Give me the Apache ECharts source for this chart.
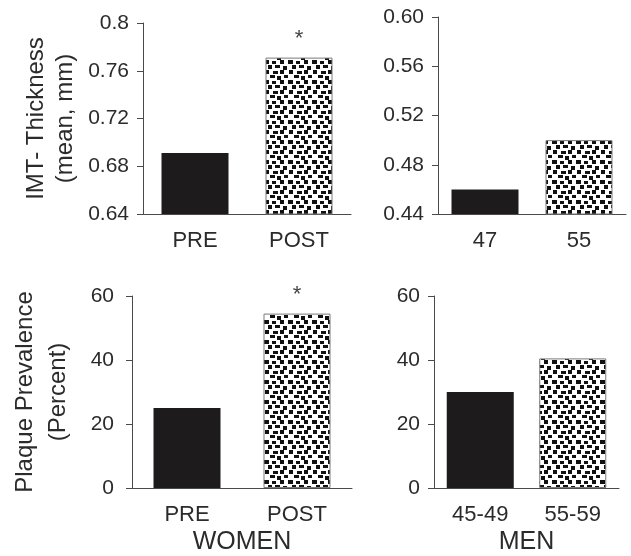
<!DOCTYPE html>
<html>
<head>
<meta charset="utf-8">
<script src="https://cdn.jsdelivr.net/npm/echarts@6/dist/echarts.min.js"></script>
<style>
html,body{margin:0;padding:0;background:#fff;}
#c{width:631px;height:556px;}
</style>
</head>
<body>
<div id="c"></div>
<script>
// ---- data ----
const imtWomenCats = ['PRE', 'POST'];
const imtWomen = [0.691, 0.771];
const imtWomenMarks = ['', '*'];

const imtMenCats = ['47', '55'];
const imtMen = [0.46, 0.50];
const imtMenMarks = ['', ''];

const plaqueWomenCats = ['PRE', 'POST'];
const plaqueWomen = [25, 54.5];
const plaqueWomenMarks = ['', '*'];

const plaqueMenCats = ['45-49', '55-59'];
const plaqueMen = [30, 40.5];
const plaqueMenMarks = ['', ''];

const imtTicks = { min: 0.64, max: 0.8, interval: 0.04 };
const imtMenTicks = { min: 0.44, max: 0.60, interval: 0.04 };
const plaqueTicks = { min: 0, max: 60, interval: 20 };

// ---- pattern (fill style only) ----
function makePattern() {
  const c = document.createElement('canvas');
  c.width = 24; c.height = 20;
  const g = c.getContext('2d');
  g.fillStyle = '#fff'; g.fillRect(0, 0, 24, 20);
  g.fillStyle = '#111';
  const blocks = [
    [0,0,5,4],[8,1,4,3],[16,0,4,4],
    [4,5,4,4],[11,5,5,3],[19,6,4,4],
    [1,10,4,4],[9,11,5,3],[16,10,4,4],
    [6,15,5,3],[13,16,4,4],[20,15,4,3]
  ];
  blocks.forEach(b => g.fillRect(b[0], b[1], b[2], b[3]));
  return c;
}
const pattern = { image: makePattern(), repeat: 'repeat' };

const TXT = '#2b2b2b';
const AX = '#4a4a4a';
const FONT = 'Liberation Sans, Arial, sans-serif';

const grids = [
  { left: 143, top: 23, width: 208, height: 191 },
  { left: 438, top: 17, width: 188, height: 197 },
  { left: 132, top: 296, width: 220, height: 193 },
  { left: 434, top: 296, width: 185, height: 193 }
];

const panels = [
  { cats: imtWomenCats, vals: imtWomen, marks: imtWomenMarks, ticks: imtTicks,
    fmt: v => String(+v.toFixed(2)), name: 'IMT- Thickness\n(mean, mm)', nameGap: 63, lh: 29, lm: 14, xname: '' },
  { cats: imtMenCats, vals: imtMen, marks: imtMenMarks, ticks: imtMenTicks,
    fmt: v => v.toFixed(2), name: '', nameGap: 0, lh: 29, lm: 14, xname: '' },
  { cats: plaqueWomenCats, vals: plaqueWomen, marks: plaqueWomenMarks, ticks: plaqueTicks,
    fmt: v => String(Math.round(v)), name: 'Plaque Prevalence\n(Percent)', nameGap: 57, lh: 33, lm: 18, xname: 'WOMEN' },
  { cats: plaqueMenCats, vals: plaqueMen, marks: plaqueMenMarks, ticks: plaqueTicks,
    fmt: v => String(Math.round(v)), name: '', nameGap: 0, lh: 29, lm: 14, xname: 'MEN' }
];

const option = {
  animation: false,
  backgroundColor: '#fff',
  textStyle: { fontFamily: FONT },
  grid: grids.map(g => Object.assign({ containLabel: false }, g)),
  xAxis: panels.map((p, i) => ({
    type: 'category', gridIndex: i, data: p.cats,
    axisLine: { lineStyle: { color: AX, width: 1 } },
    axisTick: { show: false },
    axisLabel: { color: TXT, fontSize: 22, margin: 16, fontFamily: FONT },
    name: p.xname, nameLocation: 'middle', nameGap: 42,
    nameTextStyle: { color: TXT, fontSize: 25, fontFamily: FONT }
  })),
  yAxis: panels.map((p, i) => ({
    type: 'value', gridIndex: i,
    min: p.ticks.min, max: p.ticks.max, interval: p.ticks.interval,
    splitLine: { show: false },
    axisLine: { show: true, lineStyle: { color: AX, width: 1 } },
    axisTick: { show: true, length: 6, lineStyle: { color: AX } },
    axisLabel: { color: TXT, fontSize: 21, margin: p.lm, formatter: p.fmt, fontFamily: FONT },
    name: p.name, nameLocation: 'middle', nameRotate: 90, nameGap: p.nameGap,
    nameTextStyle: { color: TXT, fontSize: 24, lineHeight: p.lh, fontFamily: FONT }
  })),
  series: panels.map((p, i) => ({
    type: 'bar', xAxisIndex: i, yAxisIndex: i, barWidth: 67,
    data: p.vals.map((v, k) => ({
      value: v,
      itemStyle: k === 0
        ? { color: '#1e1b1c' }
        : { color: pattern, borderColor: '#7a7a7a', borderWidth: 1 },
      label: { show: !!p.marks[k], position: 'top', distance: 8, formatter: p.marks[k],
               color: '#444', fontSize: 22, fontFamily: FONT }
    }))
  }))
};

const chart = echarts.init(document.getElementById('c'), null, { renderer: 'canvas' });
chart.setOption(option);
</script>
</body>
</html>
